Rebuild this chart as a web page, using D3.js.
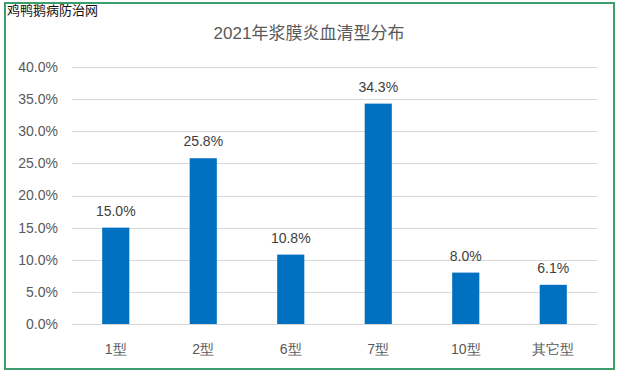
<!DOCTYPE html>
<html>
<head>
<meta charset="utf-8">
<script src="https://cdn.jsdelivr.net/npm/d3@7"></script>
<style>
  body { margin: 0; background: #fff; }
  svg { display: block; font-family: "Liberation Sans", Arial, "Noto Sans CJK SC", sans-serif; }
</style>
</head>
<body>
<div id="chart"></div>
<script>
// chart data
var categories = ['1型', '2型', '6型', '7型', '10型', '其它型'];
var values = [15.0, 25.8, 10.8, 34.3, 8.0, 6.1];
var yTicks = [0, 5, 10, 15, 20, 25, 30, 35, 40];
var title = '2021年浆膜炎血清型分布';
var watermark = '鸡鸭鹅病防治网';

var width = 624, height = 377;
var margin = { top: 67, right: 27, bottom: 53, left: 72 };

var svg = d3.select('#chart').append('svg')
  .attr('width', width)
  .attr('height', height);

// green frame
svg.append('rect')
  .attr('x', 5).attr('y', 3)
  .attr('width', 609).attr('height', 366)
  .attr('fill', '#fff')
  .attr('stroke', '#3b9e6c')
  .attr('stroke-width', 2);

svg.append('text')
  .attr('x', 7).attr('y', 15)
  .attr('font-size', 13)
  .attr('fill', '#111')
  .attr('font-family', '"Noto Sans CJK SC", sans-serif')
  .text(watermark);

svg.append('text')
  .attr('x', 309).attr('y', 39)
  .attr('text-anchor', 'middle')
  .attr('font-size', 17)
  .attr('fill', '#595959')
  .text(title);

var x = d3.scaleBand()
  .domain(categories)
  .range([margin.left, width - margin.right])
  .paddingInner(0.69)
  .paddingOuter(0.345);

var y = d3.scaleLinear()
  .domain([0, 40])
  .range([height - margin.bottom, margin.top]);

// gridlines
svg.append('g')
  .selectAll('line')
  .data(yTicks)
  .enter().append('line')
  .attr('x1', margin.left)
  .attr('x2', width - margin.right)
  .attr('y1', function (d) { return Math.round(y(d)) + 0.5; })
  .attr('y2', function (d) { return Math.round(y(d)) + 0.5; })
  .attr('stroke', '#d9d9d9')
  .attr('stroke-width', 1);

// y axis labels
var yAxis = d3.axisLeft(y)
  .tickValues(yTicks)
  .tickSize(0)
  .tickPadding(14)
  .tickFormat(function (d) { return d.toFixed(1) + '%'; });

svg.append('g')
  .attr('transform', 'translate(' + margin.left + ',0)')
  .call(yAxis)
  .call(function (g) { g.select('.domain').remove(); })
  .selectAll('text')
  .attr('font-size', 14)
  .attr('fill', '#595959');

// x axis labels
var xAxis = d3.axisBottom(x).tickSize(0).tickPadding(20);
svg.append('g')
  .attr('transform', 'translate(0,' + (height - margin.bottom) + ')')
  .call(xAxis)
  .call(function (g) { g.select('.domain').remove(); })
  .selectAll('text')
  .attr('font-size', 14)
  .attr('fill', '#595959');

// bars
svg.append('g')
  .selectAll('rect')
  .data(values)
  .enter().append('rect')
  .attr('x', function (d, i) { return x(categories[i]); })
  .attr('y', function (d) { return y(d); })
  .attr('width', x.bandwidth())
  .attr('height', function (d) { return y(0) - y(d); })
  .attr('fill', '#0070c0');

// value labels
svg.append('g')
  .selectAll('text')
  .data(values)
  .enter().append('text')
  .attr('x', function (d, i) { return x(categories[i]) + x.bandwidth() / 2; })
  .attr('y', function (d) { return y(d) - 12; })
  .attr('text-anchor', 'middle')
  .attr('font-size', 14)
  .attr('fill', '#404040')
  .text(function (d) { return d.toFixed(1) + '%'; });
</script>
</body>
</html>
